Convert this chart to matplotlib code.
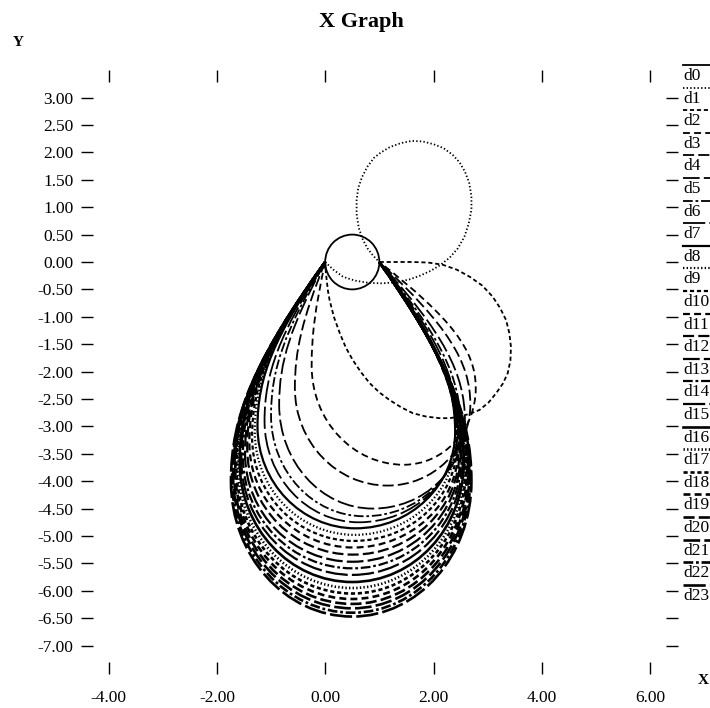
import matplotlib
matplotlib.use("Agg")
import matplotlib.pyplot as plt
from matplotlib.path import Path
from matplotlib.patches import PathPatch, Circle
from matplotlib.lines import Line2D

plt.rcParams["font.family"] = ["Liberation Serif", "DejaVu Serif"]
plt.rcParams["axes.unicode_minus"] = False
plt.rcParams["lines.scale_dashes"] = False

names = ["d%d" % i for i in range(24)]

# d0: small circle through (0,0) and (1,0)
d0_center = (0.5, 0.0)
d0_radius = 0.5

# d1: dotted loop above and right of the origin
d1_x = [0.0, 0.15, 0.33, 0.55, 0.8, 1.05, 1.3, 1.55, 1.75, 1.95, 2.12, 2.3, 2.45,
        2.57, 2.65, 2.7, 2.7, 2.66, 2.58, 2.48, 2.35, 2.18, 2.0, 1.8, 1.6, 1.4,
        1.2, 1.03, 0.9, 0.78, 0.68, 0.61, 0.58, 0.58, 0.62, 0.69, 0.78, 0.89, 1.0]
d1_y = [0.0, -0.14, -0.27, -0.34, -0.38, -0.39, -0.37, -0.32, -0.25, -0.16, -0.06,
        0.08, 0.25, 0.46, 0.7, 0.95, 1.2, 1.44, 1.65, 1.82, 1.96, 2.08, 2.15, 2.2,
        2.21, 2.17, 2.1, 2.0, 1.9, 1.74, 1.55, 1.35, 1.13, 0.88, 0.62, 0.42, 0.25,
        0.11, 0.0]

# d2: dashed loop to the lower right
d2_x = [0.0, 0.01, 0.03, 0.05, 0.08, 0.16, 0.27, 0.38, 0.51, 0.66, 0.82, 1.0, 1.19,
        1.4, 1.62, 1.86, 2.11, 2.3, 2.48, 2.67, 2.85, 3.02, 3.16, 3.28, 3.37, 3.42,
        3.43, 3.4, 3.34, 3.23, 3.09, 2.9, 2.67, 2.43, 2.17, 1.9, 1.62, 1.3, 1.0]
d2_y = [0.0, -0.17, -0.35, -0.52, -0.69, -1.0, -1.3, -1.56, -1.79, -2.01, -2.21,
        -2.38, -2.52, -2.65, -2.76, -2.82, -2.85, -2.85, -2.82, -2.77, -2.7, -2.56,
        -2.39, -2.22, -2.03, -1.8, -1.55, -1.3, -1.06, -0.84, -0.63, -0.43, -0.27,
        -0.14, -0.05, -0.01, 0.0, 0.0, 0.0]

# d3 .. d23: teardrops hanging from (0,0) and (1,0)
left_x = [-0.25, -0.56, -0.85, -1.00, -1.12, -1.25, -1.30, -1.35, -1.40, -1.44, -1.48,
          -1.52, -1.55, -1.58, -1.61, -1.64, -1.66, -1.68, -1.70, -1.72, -1.74]
left_y = [-1.9, -2.3, -2.6, -2.8, -2.9, -3.0, -3.1, -3.2, -3.3, -3.4, -3.5,
          -3.55, -3.6, -3.65, -3.7, -3.75, -3.8, -3.85, -3.9, -3.95, -4.0]
bottom_x = [1.45, 1.15, 0.88, 0.72, 0.62, 0.56, 0.54, 0.53, 0.52, 0.51, 0.5,
            0.5, 0.5, 0.5, 0.5, 0.5, 0.5, 0.5, 0.5, 0.5, 0.5]
bottom_y = [-3.70, -4.08, -4.50, -4.64, -4.75, -4.86, -4.98, -5.09, -5.21, -5.34, -5.47,
            -5.59, -5.71, -5.84, -5.95, -6.05, -6.15, -6.24, -6.32, -6.40, -6.47]
right_x = [2.78, 2.68, 2.58, 2.50, 2.45, 2.40, 2.42, 2.44, 2.46, 2.48, 2.50,
           2.52, 2.54, 2.56, 2.58, 2.60, 2.62, 2.64, 2.66, 2.68, 2.70]
right_y = [-2.3, -2.6, -2.9, -3.0, -3.05, -3.1, -3.2, -3.3, -3.4, -3.45, -3.5,
           -3.55, -3.6, -3.65, -3.7, -3.75, -3.8, -3.85, -3.9, -3.95, -4.0]

x_ticks = [-4, -2, 0, 2, 4, 6]
y_ticks = [3.0, 2.5, 2.0, 1.5, 1.0, 0.5, 0.0, -0.5, -1.0, -1.5, -2.0, -2.5, -3.0,
           -3.5, -4.0, -4.5, -5.0, -5.5, -6.0, -6.5, -7.0]

# xgraph style cycle: 8 dash patterns, width grows every 8 sets
styles = ["-", (0, (1, 1.6)), (0, (3, 2)), (0, (5, 3)), (0, (8, 3)),
          (0, (12, 3)), (0, (7, 2, 2, 2)), (0, (16, 3))]
widths = [1.3, 1.6, 1.9]


def style(i):
    return dict(linestyle=styles[i % 8], linewidth=widths[i // 8], color="black")


def teardrop(xl, yl, xb, yb, xr, yr):
    k = 0.5523
    verts = [(0.0, 0.0), (0.75 * xl, 0.45 * yl), (xl, 0.7 * yl), (xl, yl),
             (xl, yl - k * (yl - yb)), (xb - k * (xb - xl), yb), (xb, yb),
             (xb + k * (xr - xb), yb), (xr, yr - k * (yr - yb)), (xr, yr),
             (xr, 0.7 * yr), (1 + 0.75 * (xr - 1), 0.45 * yr), (1.0, 0.0)]
    codes = [Path.MOVETO] + [Path.CURVE4] * 12
    return Path(verts, codes)


fig = plt.figure(figsize=(7.10, 7.08), dpi=100)
ax = fig.add_axes([0.1224, 0.0572, 0.8238, 0.8359])

ax.add_patch(Circle(d0_center, d0_radius, fill=False, **style(0)))
ax.plot(d1_x, d1_y, **style(1))
ax.plot(d2_x, d2_y, **style(2))
for j in range(len(left_x)):
    p = teardrop(left_x[j], left_y[j], bottom_x[j], bottom_y[j], right_x[j], right_y[j])
    ax.add_patch(PathPatch(p, fill=False, **style(j + 3)))

ax.set_xlim(-4.4, 6.4)
ax.set_ylim(-7.4, 3.4)
for s in ax.spines.values():
    s.set_visible(False)
ax.set_xticks(x_ticks)
ax.set_xticklabels(["%.2f" % v for v in x_ticks])
ax.set_yticks(y_ticks)
ax.set_yticklabels(["%.2f" % v for v in y_ticks])
ax.tick_params(direction="inout", length=9, width=1, top=True, right=True,
               labelsize=12.5)
ax.tick_params(axis="x", pad=12)
ax.tick_params(axis="y", pad=5)

fig.text(361 / 710, 1 - 22 / 708, "X Graph", ha="center", va="center",
         fontsize=16, fontweight="bold")
fig.text(18 / 710, 1 - 43 / 708, "Y", ha="center", va="center",
         fontsize=11, fontweight="bold")
fig.text(703 / 710, 1 - 680 / 708, "X", ha="center", va="center",
         fontsize=11, fontweight="bold")

# legend: label with a sample of its line drawn above it
for i, name in enumerate(names):
    yc = 76 + i * 22.6
    fig.text(683 / 710, 1 - yc / 708, name, ha="left", va="center", fontsize=12.5)
    yl = 1 - (yc - 11) / 708
    fig.add_artist(Line2D([683 / 710, 715 / 710], [yl, yl], transform=fig.transFigure,
                          **style(i)))

fig.savefig("out.png", dpi=100)
